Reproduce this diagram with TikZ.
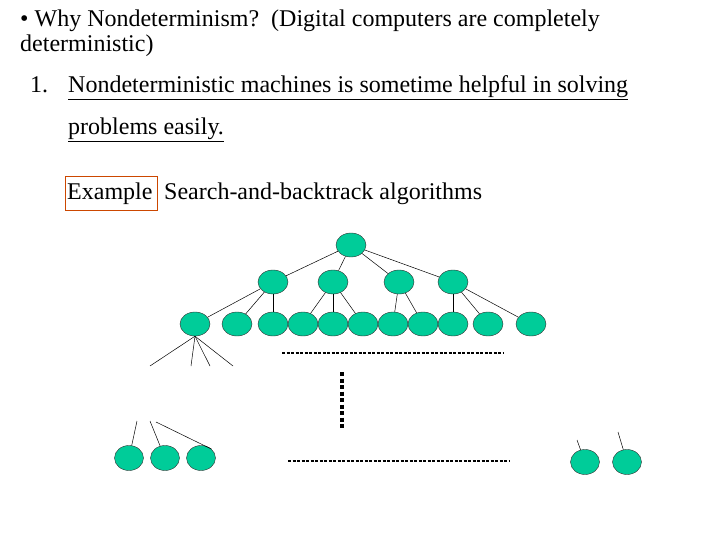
\documentclass[tikz,border=0pt]{standalone}
\usepackage{fontspec}
\setmainfont{Liberation Serif}
\usetikzlibrary{shapes.geometric}
\definecolor{nodegreen}{HTML}{00CC99}
\newcommand{\ul}[1]{\underline{#1}}
\begin{document}
\begin{tikzpicture}[x=1pt,y=-1pt,
  nd/.style={ellipse,draw=black!80,fill=nodegreen,minimum width=30pt,minimum height=24pt,inner sep=0pt},
  ed/.style={draw=black,line width=0.5pt},
  txt/.style={anchor=base west,inner sep=0pt,font=\fontsize{24}{26}\selectfont}]
\useasboundingbox (0,0) rectangle (720,540);
\node[txt] (t1) at (20,27) {• Why Nondeterminism?\hspace{12pt}(Digital computers are completely};
\node[txt] (t2) at (20,52) {deterministic)};
\node[txt] (t3) at (30,93) {1.};
\node[txt] (t4) at (68,93) {\ul{Nondeterministic machines is sometime helpful in solving}};
\node[txt] (t5) at (68,135) {\ul{problems easily.}};
\node[txt] (t6) at (67,200) {Example};
\node[draw=orange!70!red!80!black,inner sep=0pt,minimum width=92pt,minimum height=34pt] (bx) at (111,193) {};
\node[txt] (t7) at (164,200) {Search-and-backtrack algorithms};
% tree
\node[nd] (r) at (351,245) {};
\foreach \n/\x in {a/273,b/333,c/399,d/453} \node[nd] (\n) at (\x,282) {};
\foreach \n/\x in {1/195,2/237,3/273,4/303,5/333,6/363,7/393,8/423,9/453,10/488,11/531} \node[nd] (l\n) at (\x,324) {};
\foreach \n/\x in {1/129,2/165,3/201} \node[nd,minimum width=29pt,minimum height=25pt] (b\n) at (\x,458) {};
\foreach \n/\x in {1/585,2/627} \node[nd,minimum width=29pt,minimum height=25pt] (c\n) at (\x,462) {};
\draw[ed] (r) -- (a); \draw[ed] (r) -- (b); \draw[ed] (r) -- (c); \draw[ed] (r) -- (d);
\draw[ed] (a) -- (l1); \draw[ed] (a) -- (l2); \draw[ed] (a) -- (l3);
\draw[ed] (b) -- (l4); \draw[ed] (b) -- (l5); \draw[ed] (b) -- (l6);
\draw[ed] (c) -- (l7); \draw[ed] (c) -- (l8);
\draw[ed] (d) -- (l9); \draw[ed] (d) -- (l10); \draw[ed] (d) -- (l11);
\coordinate (e1) at (150,366); \coordinate (e2) at (191,366); \coordinate (e3) at (210,366); \coordinate (e4) at (233,366);
\foreach \e in {e1,e2,e3,e4} \draw[ed] (l1.south) -- (\e);
\coordinate (f1) at (137,421); \coordinate (f2) at (150,421); \coordinate (f3) at (156,422);
\draw[ed] (f1) -- (b1); \draw[ed] (f2) -- (b2); \draw[ed] (f3) -- (b3.north east);
\coordinate (g1) at (577,440); \coordinate (g2) at (618,432);
\draw[ed] (g1) -- (c1); \draw[ed] (g2) -- (c2);
\coordinate (h1) at (282,353); \coordinate (h2) at (503,353);
\draw[line width=1.6pt,dash pattern=on 3pt off 1.5pt] (h1) -- (h2);
\coordinate (k1) at (288,461); \coordinate (k2) at (510,461);
\draw[line width=1.6pt,dash pattern=on 3pt off 1.5pt] (k1) -- (k2);
\coordinate (v1) at (342,372); \coordinate (v2) at (342,430);
\draw[line width=4pt,dash pattern=on 4pt off 2.5pt] (v1) -- (v2);
\end{tikzpicture}
\end{document}
